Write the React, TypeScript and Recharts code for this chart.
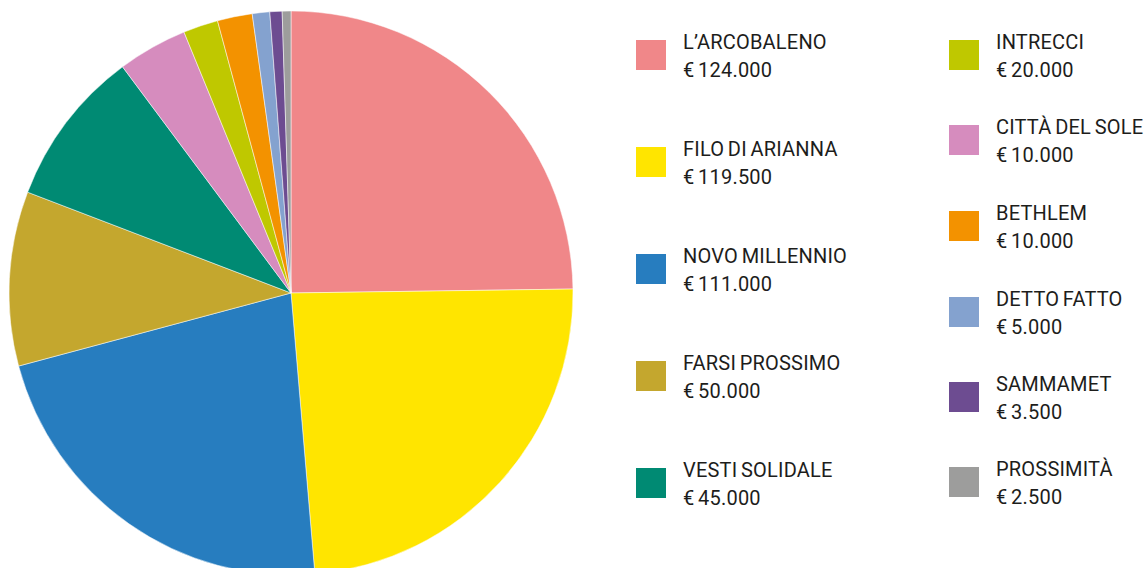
import React from 'react';
import { PieChart, Pie, Cell, Legend } from 'recharts';

const names = [
  "L\u2019ARCOBALENO",
  'FILO DI ARIANNA',
  'NOVO MILLENNIO',
  'FARSI PROSSIMO',
  'VESTI SOLIDALE',
  'INTRECCI',
  'CITTÀ DEL SOLE',
  'BETHLEM',
  'DETTO FATTO',
  'SAMMAMET',
  'PROSSIMITÀ',
];
const values = [124000, 119500, 111000, 50000, 45000, 20000, 10000, 10000, 5000, 3500, 2500];
const legendColors = ['#F08789', '#FFE500', '#277DBF', '#C4A72E', '#008A73', '#BFC800', '#D68CBE', '#F39200', '#84A2CF', '#6D4C91', '#9D9D9C'];
// colours as the slices appear in the pie (6th and 7th swapped in the original)
const sliceColors = ['#F08789', '#FFE500', '#277DBF', '#C4A72E', '#008A73', '#D68CBE', '#BFC800', '#F39200', '#84A2CF', '#6D4C91', '#9D9D9C'];

const data = names.map((name, i) => ({ name, value: values[i] }));

const fmt = (v: number) => '€ ' + String(v).replace(/\B(?=(\d{3})+(?!\d))/g, '.');

const FONT = 'Roboto, "DejaVu Sans", sans-serif';

const leftTops = [40, 147, 254, 361, 468];
const rightTops = [40, 125, 211, 297, 382, 467];

const LegendContent = () => (
  <div style={{ position: 'relative', width: 1145, height: 568 }}>
    {names.map((n, i) => {
      const left = i < 5;
      const x = left ? 636 : 949;
      const y = left ? leftTops[i] : rightTops[i - 5];
      return (
        <React.Fragment key={n}>
          <div style={{ position: 'absolute', left: x, top: y, width: 30, height: 30, background: legendColors[i] }} />
          <div
            style={{
              position: 'absolute',
              left: x + 47,
              top: y - 12,
              fontFamily: FONT,
              fontSize: 20,
              lineHeight: '28px',
              color: '#1d1d1b',
              whiteSpace: 'nowrap',
              letterSpacing: 0.2,
              wordSpacing: -1.5,
            }}
          >
            <div>{n}</div>
            <div>{fmt(values[i])}</div>
          </div>
        </React.Fragment>
      );
    })}
  </div>
);

export default function App() {
  return (
    <div style={{ position: 'absolute', left: 0, top: 0, width: 1145, height: 568, background: '#fff' }}>
      <PieChart width={1145} height={568} margin={{ top: 0, right: 0, bottom: 0, left: 0 }}>
        <Pie
          data={data}
          dataKey="value"
          nameKey="name"
          cx={291}
          cy={293}
          outerRadius={282}
          innerRadius={0}
          startAngle={90}
          endAngle={-270}
          stroke="#ffffff"
          strokeWidth={0.5}
          isAnimationActive={false}
        >
          {data.map((d, i) => (
            <Cell key={d.name} fill={sliceColors[i]} />
          ))}
        </Pie>
        <Legend
          content={() => <LegendContent />}
          wrapperStyle={{ position: 'absolute', left: 0, top: 0, width: 1145, height: 568 }}
        />
      </PieChart>
    </div>
  );
}
